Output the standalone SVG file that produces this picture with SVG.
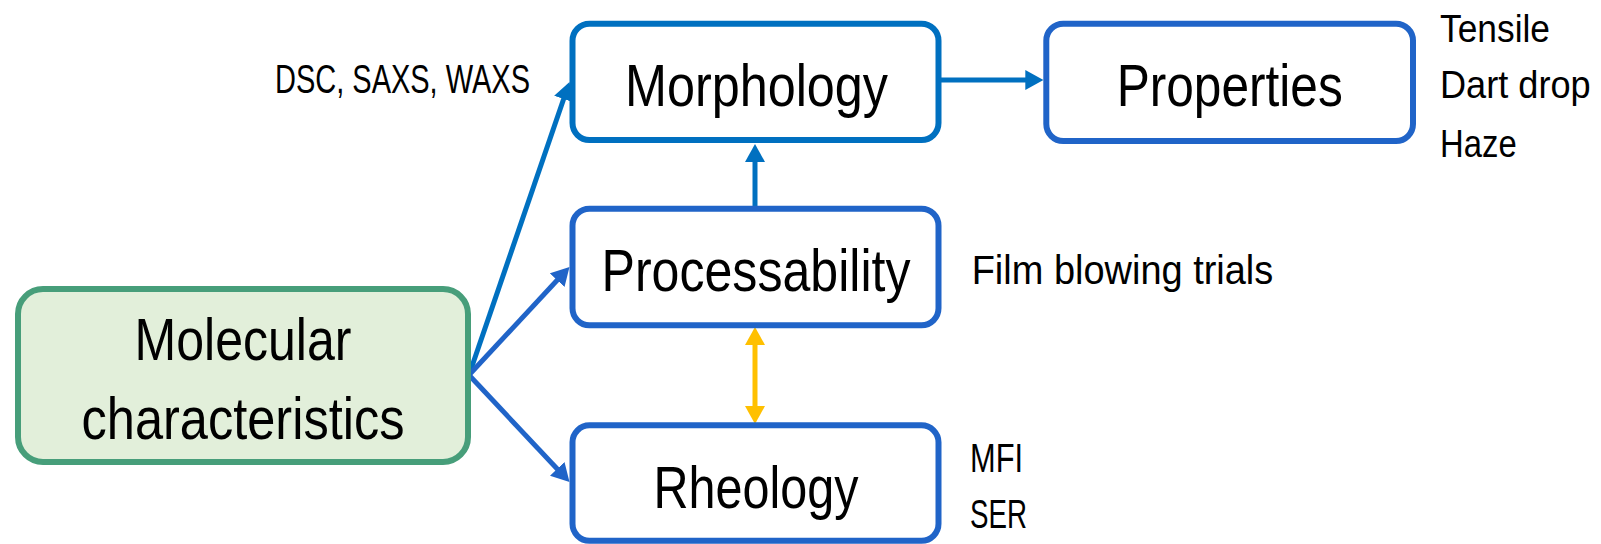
<svg xmlns="http://www.w3.org/2000/svg" width="1601" height="544" viewBox="0 0 1601 544">
<style>
.box{fill:#ffffff;stroke:#2064C8;stroke-width:6}
.boxm{fill:#ffffff;stroke:#0070C0;stroke-width:6}
.green{fill:#E2EFDA;stroke:#479E7A;stroke-width:6}
.big{font-family:"Liberation Sans Narrow","Liberation Sans",sans-serif;font-size:59px;fill:#000;text-anchor:middle}
.lbl{font-family:"Liberation Sans Narrow","Liberation Sans",sans-serif;font-size:41px;fill:#000}
.lbs{font-family:"Liberation Sans Narrow","Liberation Sans",sans-serif;font-size:38px;fill:#000}
.c1{stroke:#0070C0;stroke-width:5;fill:none}
.c2{stroke:#2064C8;stroke-width:5;fill:none}
.c3{stroke:#FFC000;stroke-width:5;fill:none}
</style>
<defs>
<marker id="ah1" viewBox="0 0 18 20" refX="6" refY="10" markerWidth="18" markerHeight="20" markerUnits="userSpaceOnUse" orient="auto"><path d="M0,0 L18,10 L0,20 z" fill="#0070C0"/></marker>
<marker id="ah2" viewBox="0 0 18 20" refX="6" refY="10" markerWidth="18" markerHeight="20" markerUnits="userSpaceOnUse" orient="auto"><path d="M0,0 L18,10 L0,20 z" fill="#2064C8"/></marker>
<marker id="ah3" viewBox="0 0 18 20" refX="6" refY="10" markerWidth="18" markerHeight="20" markerUnits="userSpaceOnUse" orient="auto-start-reverse"><path d="M0,0 L18,10 L0,20 z" fill="#FFC000"/></marker>
</defs>
<g id="connectors">
<line class="c1" x1="941" y1="80" x2="1031.3" y2="80" marker-end="url(#ah1)"/>
<line class="c1" x1="755" y1="206" x2="755" y2="156" marker-end="url(#ah1)"/>
<line class="c3" x1="755" y1="339" x2="755" y2="412" marker-start="url(#ah3)" marker-end="url(#ah3)"/>
<line class="c1" x1="469" y1="375" x2="565.6" y2="93.3" marker-end="url(#ah1)"/>
<line class="c2" x1="469" y1="375" x2="561.3" y2="275.8" marker-end="url(#ah2)"/>
<line class="c2" x1="469" y1="375" x2="561.3" y2="473.3" marker-end="url(#ah2)"/>
</g>
<g id="molecular">
<rect class="green" x="18" y="289" width="450" height="173" rx="25"/>
<text class="big" x="243" y="360" textLength="217" lengthAdjust="spacingAndGlyphs">Molecular</text>
<text class="big" x="243" y="439" textLength="323" lengthAdjust="spacingAndGlyphs">characteristics</text>
</g>
<g id="morphology">
<rect class="boxm" x="572.5" y="23.7" width="366" height="116.3" rx="17"/>
<text class="big" x="756.5" y="106" textLength="263" lengthAdjust="spacingAndGlyphs">Morphology</text>
</g>
<g id="processability">
<rect class="box" x="572.5" y="208.7" width="366" height="116.6" rx="17"/>
<text class="big" x="756" y="290.7" textLength="309" lengthAdjust="spacingAndGlyphs">Processability</text>
</g>
<g id="rheology">
<rect class="box" x="572.5" y="425.3" width="366" height="115.5" rx="17"/>
<text class="big" x="756" y="508.3" textLength="205" lengthAdjust="spacingAndGlyphs">Rheology</text>
</g>
<g id="properties">
<rect class="box" x="1046.3" y="23.7" width="366.7" height="117.3" rx="17"/>
<text class="big" x="1229.7" y="106" textLength="226" lengthAdjust="spacingAndGlyphs">Properties</text>
</g>
<g id="labels">
<text class="lbl" x="275" y="93.3" textLength="255" lengthAdjust="spacingAndGlyphs">DSC, SAXS, WAXS</text>
<text class="lbl" x="971.7" y="284.3" textLength="301.6" lengthAdjust="spacingAndGlyphs">Film blowing trials</text>
<text class="lbs" x="1440" y="41.7" textLength="110" lengthAdjust="spacingAndGlyphs">Tensile</text>
<text class="lbs" x="1440" y="98.3" textLength="150.7" lengthAdjust="spacingAndGlyphs">Dart drop</text>
<text class="lbs" x="1440" y="156.7" textLength="76.7" lengthAdjust="spacingAndGlyphs">Haze</text>
<text class="lbl" x="970" y="471.7" textLength="53" lengthAdjust="spacingAndGlyphs">MFI</text>
<text class="lbl" x="970" y="528.3" textLength="57" lengthAdjust="spacingAndGlyphs">SER</text>
</g>
</svg>
